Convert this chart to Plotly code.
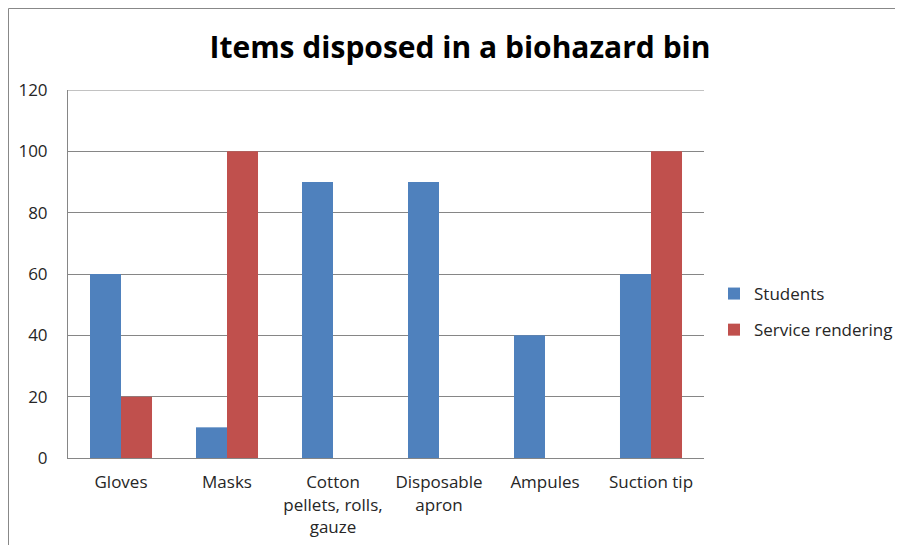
import plotly.graph_objects as go

categories = ["Gloves", "Masks", "Cotton<br>pellets, rolls,<br>gauze", "Disposable<br>apron", "Ampules", "Suction tip"]
students = [60, 10, 90, 90, 40, 60]
service = [20, 100, 0, 0, 0, 100]
y_ticks = [0, 20, 40, 60, 80, 100, 120]

FONT = "Open Sans"
TXT = "#262626"
fig = go.Figure()
fig.add_trace(go.Bar(x=categories, y=students, name="Students", marker_color="#4F81BD",
                     marker_line_width=0, legendgroup="a"))
fig.add_trace(go.Bar(x=categories, y=service, name="Service rendering", marker_color="#C0504D",
                     marker_line_width=0, legendgroup="b"))

# page body adds 8px offset on each side
W, H = 887, 537
L, T = 60, 82
R = W - 696
B = H - 450
pw, ph = W - L - R, H - T - B

fig.update_layout(
    width=W, height=H,
    margin=dict(l=L, r=R, t=T, b=B, autoexpand=False),
    paper_bgcolor="white", plot_bgcolor="white",
    barmode="group", bargap=0.415, bargroupgap=0,
    title=dict(text="<b>Items disposed in a biohazard bin</b>", x=452 / W, xanchor="center",
               y=1 - 39 / H, yanchor="middle", font=dict(family=FONT, size=30, color="black")),
    font=dict(family=FONT, size=17, color=TXT),
    legend=dict(x=1 + 10 / pw, y=1 - (268 - T) / ph, xanchor="left", yanchor="top",
                font=dict(size=17, color=TXT), itemwidth=30, tracegroupgap=11,
                bgcolor="rgba(0,0,0,0)"),
    showlegend=True,
)
fig.update_xaxes(showline=True, linecolor="#868686", linewidth=1, ticks="", showgrid=False,
                 tickfont=dict(size=17), ticklabelstandoff=9, automargin=False)
fig.update_yaxes(range=[0, 120], tickvals=y_ticks, showgrid=True, gridcolor="#868686", gridwidth=1,
                 showline=True, linecolor="#868686", linewidth=1, zeroline=False, ticks="",
                 tickfont=dict(size=17), ticklabelstandoff=16, automargin=False)

# top gridline at the axis maximum
fig.add_shape(type="line", xref="paper", yref="y", x0=0, x1=1, y0=120, y1=120,
              line=dict(color="#868686", width=1))
# outer chart border (top and left edges visible)
fig.add_shape(type="line", xref="paper", yref="paper",
              x0=(0.5 - L) / pw, x1=(W - L) / pw, y0=1 + (T - 0.5) / ph, y1=1 + (T - 0.5) / ph,
              line=dict(color="#888888", width=1))
fig.add_shape(type="line", xref="paper", yref="paper",
              x0=(0.5 - L) / pw, x1=(0.5 - L) / pw, y0=1 + (T - 0.5) / ph, y1=-(B) / ph,
              line=dict(color="#888888", width=1))

fig.write_html("out.html")
